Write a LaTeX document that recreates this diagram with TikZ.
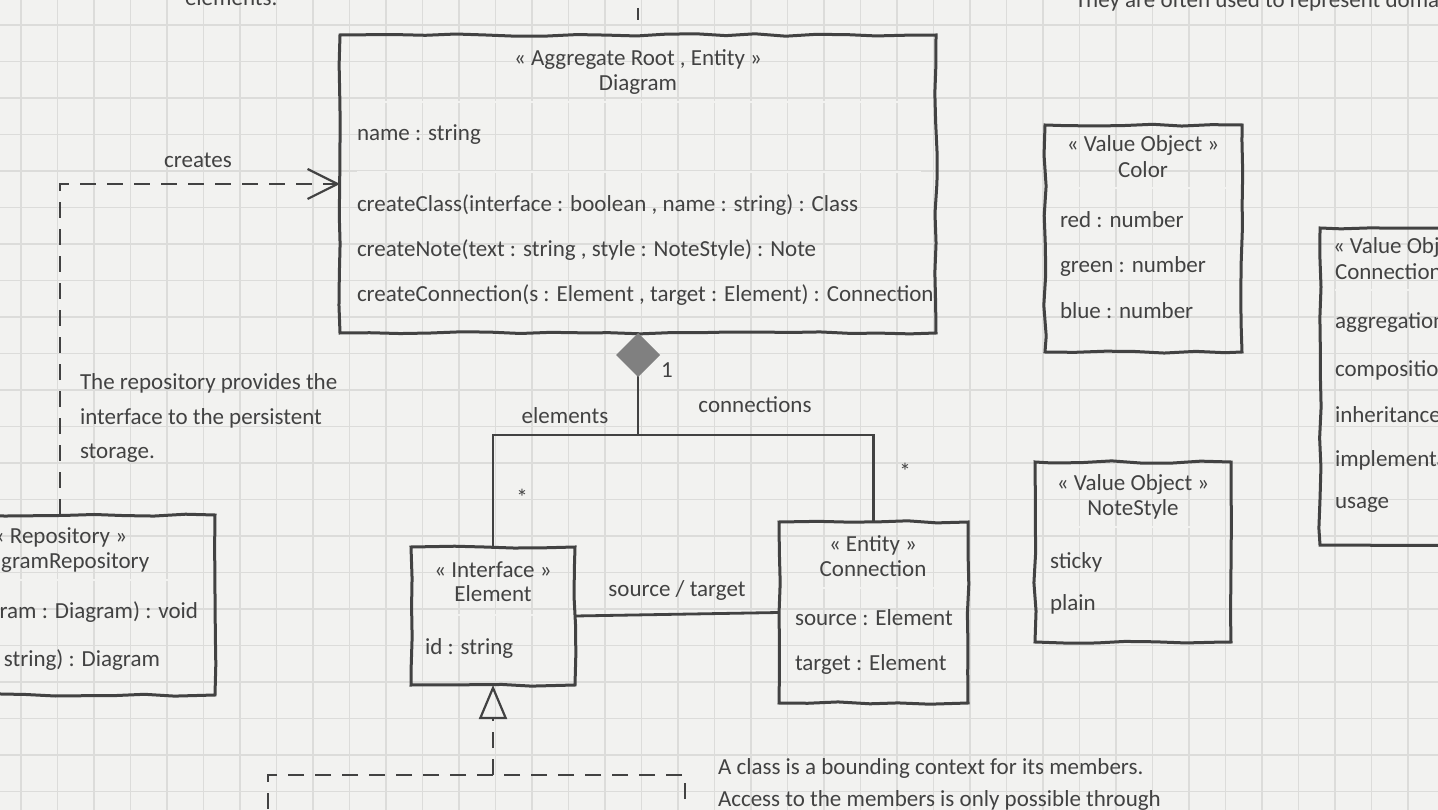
\documentclass[tikz,border=0pt]{standalone}
\usepackage{fontspec}
\setmainfont{Carlito}
\usetikzlibrary{arrows.meta,decorations.pathmorphing}
\definecolor{paper}{RGB}{242,242,240}
\definecolor{gridgray}{RGB}{220,220,218}
\definecolor{ink}{RGB}{66,66,66}
\definecolor{diamondgray}{RGB}{128,128,128}
\begin{document}
\begin{tikzpicture}[x=1pt, y=-1pt,
    every node/.style={text=ink, font=\fontsize{23}{26}\selectfont, inner sep=0pt, outer sep=0pt},
    classbox/.style={draw=ink, line width=3pt, anchor=north west, decorate,
      decoration={random steps, segment length=30pt, amplitude=1.2pt}},
    groupbox/.style={draw=ink, line width=2.2pt, anchor=north west, dash pattern=on 16pt off 11pt},
    member/.style={anchor=west},
    notetext/.style={anchor=west},
    sepline/.style={draw=ink, line width=0.8pt, double=paper, double distance=1.1pt},
    assoc/.style={draw=ink, line width=2.8pt},
    depend/.style={draw=ink, line width=2.4pt, dash pattern=on 16pt off 11pt},
    gridline/.style={draw=gridgray, line width=1.2pt}]
  \pgfmathsetseed{7}
  \useasboundingbox (0,0) rectangle (1438,810);
  \fill[paper] (0,0) rectangle (1438,810);
  \foreach \gx in {21,57.5,...,1438} \draw[gridline] (\gx,0) -- (\gx,810);
  \foreach \gy in {25,61.5,...,810} \draw[gridline] (0,\gy) -- (1438,\gy);

  % classes
  \node[classbox, minimum width=596pt, minimum height=298pt] (diagram) at (340,35) {};
  \node (diagram-st) at (638,60) {« Aggregate Root , Entity »};
  \node (diagram-nm) at (638,85) {Diagram};
  \draw[sepline] (357,102) -- (921,102);
  \node[member] (diagram-a1) at (357,135) {name : string};
  \draw[sepline] (357,172) -- (921,172);
  \node[member] (diagram-m1) at (357,205) {createClass(interface : boolean , name : string) : Class};
  \node[member] (diagram-m2) at (357,250) {createNote(text : string , style : NoteStyle) : Note};
  \node[member] (diagram-m3) at (357,295) {createConnection(s : Element , target : Element) : Connection};

  \node[classbox, minimum width=310pt, minimum height=180pt] (repository) at (-95,515) {};
  \node (repository-st) at (60,537) {« Repository »};
  \node (repository-nm) at (60,563) {DiagramRepository};
  \draw[sepline] (-78,580) -- (200,580);
  \node[anchor=east] (repository-m1) at (198,612) {save(diagram : Diagram) : void};
  \node[anchor=east] (repository-m2) at (160,660) {load(id : string) : Diagram};

  \node[classbox, minimum width=164pt, minimum height=138pt] (element) at (411,547) {};
  \node (element-st) at (493,570) {« Interface »};
  \node (element-nm) at (493,594) {Element};
  \draw[sepline] (425,615) -- (562,615);
  \node[member] (element-a1) at (425,648) {id : string};

  \node[classbox, minimum width=189pt, minimum height=181pt] (connection) at (779,522) {};
  \node (connection-st) at (873,545) {« Entity »};
  \node (connection-nm) at (873,569) {Connection};
  \draw[sepline] (793,588) -- (955,588);
  \node[member] (connection-a1) at (795,618) {source : Element};
  \node[member] (connection-a2) at (795,664) {target : Element};

  \node[classbox, minimum width=197pt, minimum height=227pt] (color) at (1045,125) {};
  \node (color-st) at (1143,145) {« Value Object »};
  \node (color-nm) at (1143,170) {Color};
  \draw[sepline] (1060,188) -- (1226,188);
  \node[member] (color-a1) at (1060,220) {red : number};
  \node[member] (color-a2) at (1060,266) {green : number};
  \node[member] (color-a3) at (1060,311) {blue : number};

  \node[classbox, minimum width=196pt, minimum height=180pt] (notestyle) at (1035,462) {};
  \node (notestyle-st) at (1133,484) {« Value Object »};
  \node (notestyle-nm) at (1133,509) {NoteStyle};
  \draw[sepline] (1050,527) -- (1217,527);
  \node[member] (notestyle-a1) at (1050,562) {sticky};
  \node[member] (notestyle-a2) at (1050,604) {plain};

  \node[classbox, minimum width=200pt, minimum height=317pt] (conntype) at (1320,228) {};
  \node[anchor=west] (conntype-st) at (1333,247) {« Value Object »};
  \node[anchor=west] (conntype-nm) at (1335,273) {ConnectionType};
  \draw[sepline] (1335,290) -- (1500,290);
  \node[member] (conntype-a1) at (1335,323) {aggregation};
  \node[member] (conntype-a2) at (1335,370) {composition};
  \node[member] (conntype-a3) at (1335,415) {inheritance};
  \node[member] (conntype-a4) at (1335,460) {implementation};
  \node[member] (conntype-a5) at (1335,505) {usage};

  \node[groupbox, minimum width=417pt, minimum height=120pt] (members) at (268,775) {};

  % notes
  \node[anchor=base west] (elementsnote) at (185,6) {elements.};
  \node[anchor=base west] (valuenote) at (1075,8) {They are often used to represent domain};
  \node[notetext] (reponote-1) at (80,383) {The repository provides the};
  \node[notetext] (reponote-2) at (80,418) {interface to the persistent};
  \node[notetext] (reponote-3) at (80,453) {storage.};
  \node[notetext] (classnote-1) at (718,768) {A class is a bounding context for its members.};
  \node[notetext] (classnote-2) at (718,800) {Access to the members is only possible through};
  \coordinate (topnote) at (638,8);

  % labels
  \node (creates) at (198,160) {creates};
  \node (one) at (667,370) {1};
  \node (elements) at (565,416) {elements};
  \node (connections) at (755,405) {connections};
  \node (manyelements) at (522,497) {*};
  \node (manyconnections) at (905,471) {*};
  \node (sourcetarget) at (677,590) {source / target};

  % connectors
  \coordinate (fork) at (638,435);
  \draw[assoc, {Diamond[color=diamondgray, length=44pt, width=44pt]}-] (diagram.south) -- (fork) -| (element.north);
  \draw[assoc] (fork) -| (connection.north);
  \draw[assoc] (element.east) -- (connection.west);
  \draw[depend, -{Triangle[open, length=34pt, width=28pt, line width=2.2pt]}] (members.north -| element.south) -- (element.south);
  \draw[depend, -{Straight Barb[length=30pt, width=30pt, line width=2.2pt]}] (repository.north) |- (diagram.west);
  \draw[depend, dash pattern=on 12pt off 30pt] (topnote) -- (diagram.north);
\end{tikzpicture}
\end{document}
